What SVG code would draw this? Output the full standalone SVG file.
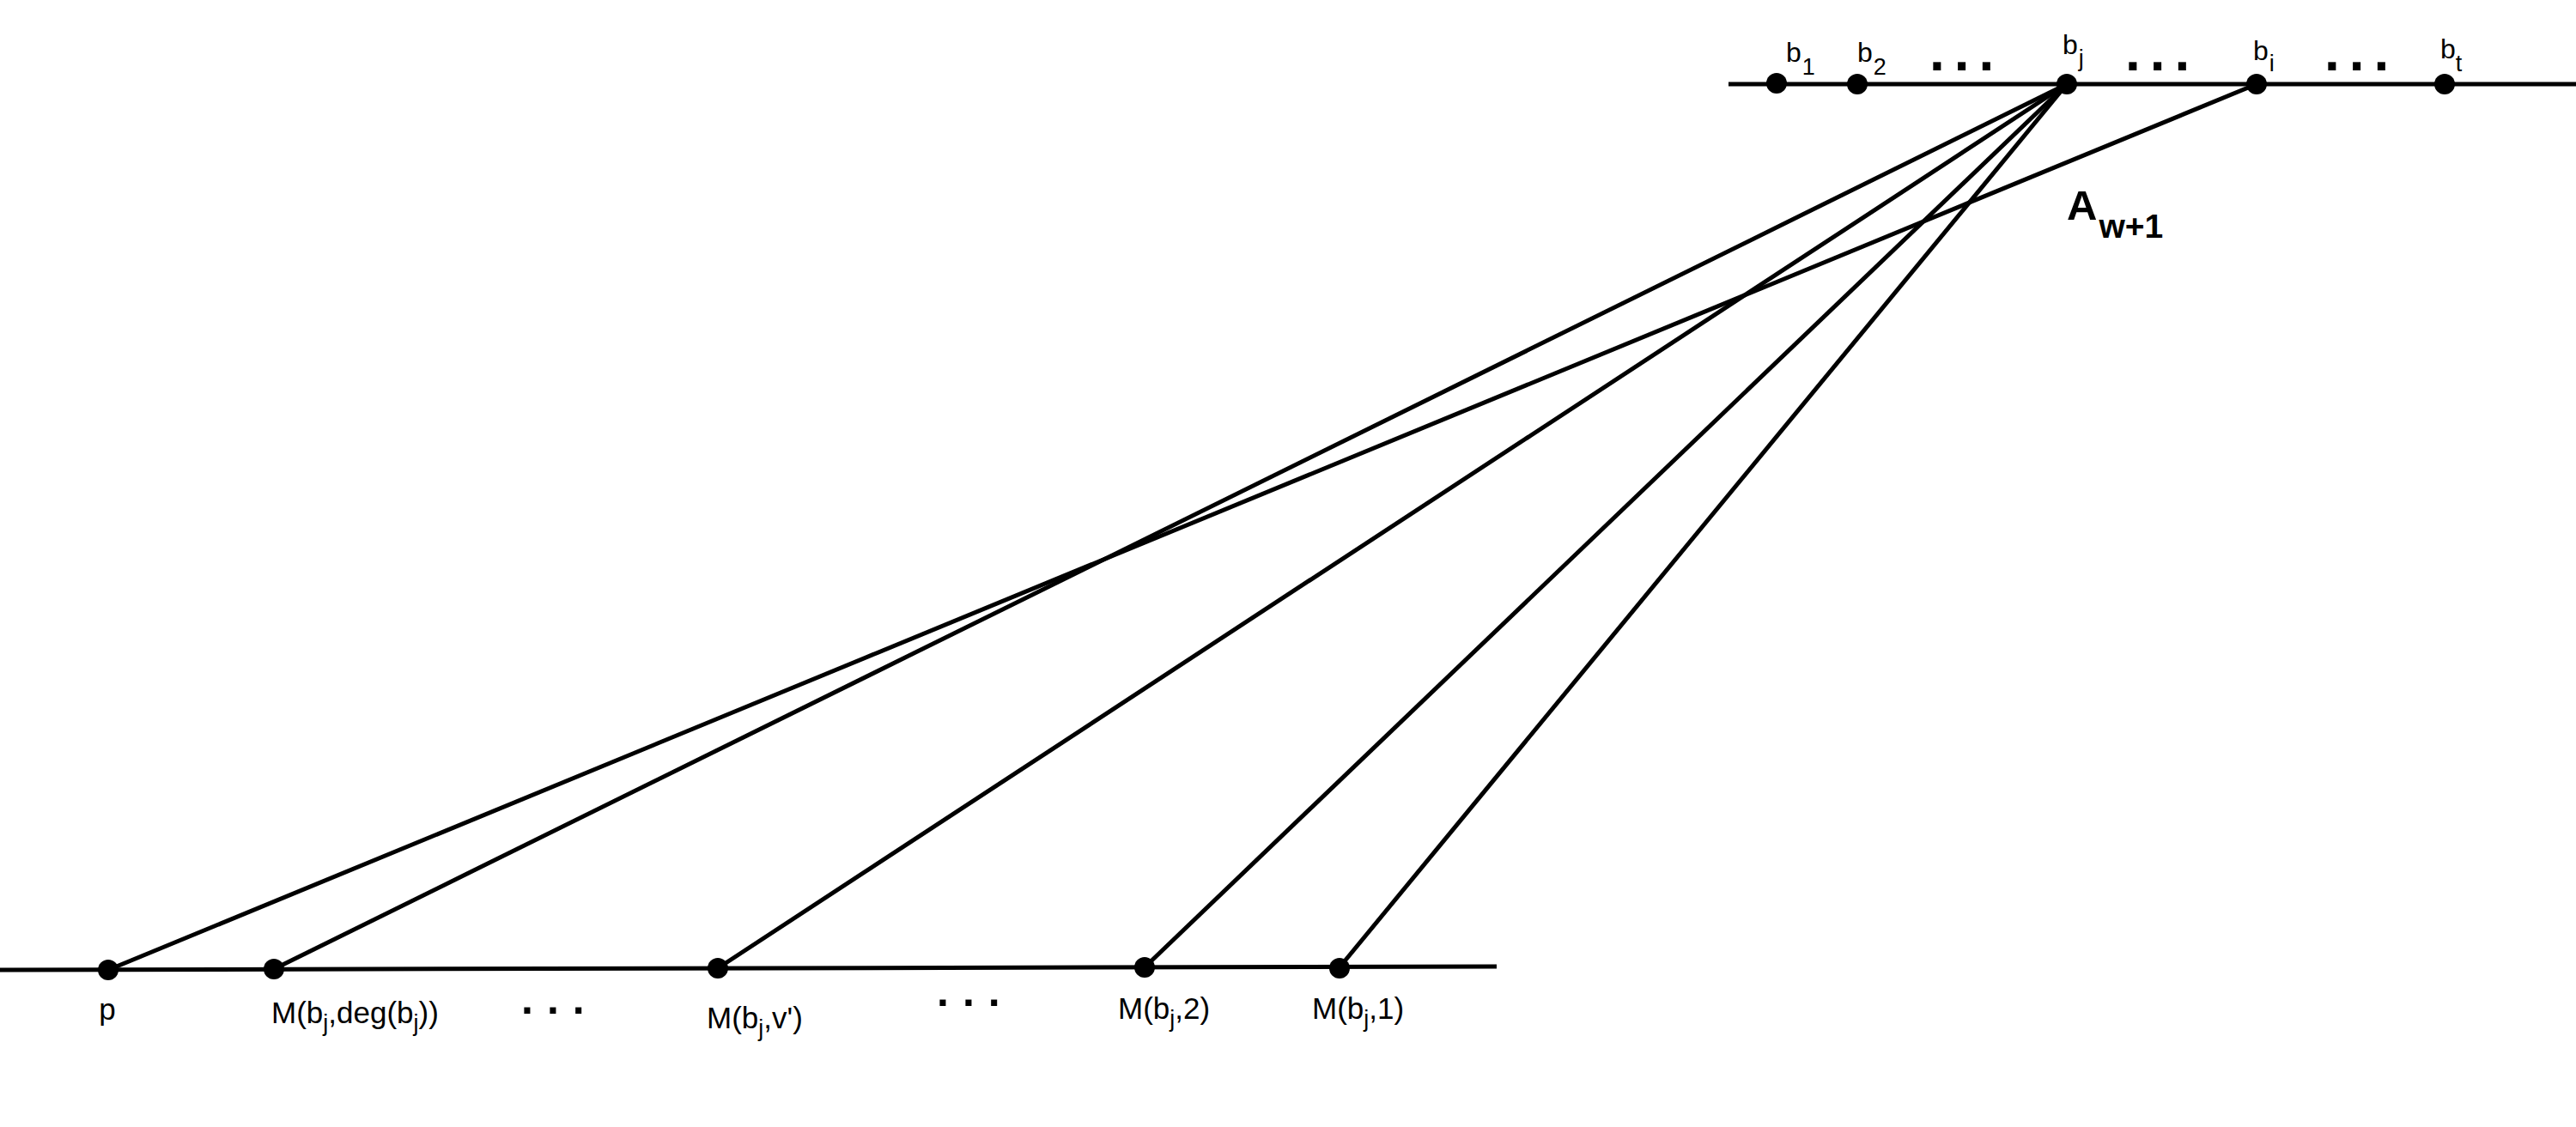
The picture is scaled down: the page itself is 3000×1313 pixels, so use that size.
<svg xmlns="http://www.w3.org/2000/svg" width="3000" height="1313" viewBox="0 0 3000 1313">
<style>
.ln{stroke:#000;stroke-width:5;fill:none;stroke-linecap:butt}
.dot{fill:#000}
.lb{font-family:"Liberation Sans",Arial,sans-serif;font-size:32px;fill:#000}
.lbb{font-family:"Liberation Sans",Arial,sans-serif;font-size:35px;fill:#000}
.sub{font-size:27px}
.ell{font-family:"Liberation Sans",Arial,sans-serif;font-weight:bold;fill:#000}
.ttl{font-family:"Liberation Sans",Arial,sans-serif;font-weight:bold;fill:#000}
</style>
<g id="axes">
<line class="ln" x1="2013" y1="98" x2="3000" y2="98"/>
<line class="ln" x1="0" y1="1130" x2="1743" y2="1126"/>
</g>
<g id="connectors">
<line class="ln" x1="2407" y1="98" x2="319" y2="1129"/>
<line class="ln" x1="2407" y1="98" x2="836" y2="1128"/>
<line class="ln" x1="2407" y1="98" x2="1333" y2="1127"/>
<line class="ln" x1="2407" y1="98" x2="1560" y2="1127"/>
<line class="ln" x1="2628" y1="98" x2="126" y2="1130"/>
</g>
<g id="b1"><circle class="dot" cx="2069" cy="97" r="12"/><text class="lb" x="2080" y="72">b<tspan class="sub" dx="1" dy="15">1</tspan></text></g>
<g id="b2"><circle class="dot" cx="2163" cy="98" r="12"/><text class="lb" x="2163" y="72">b<tspan class="sub" dx="1" dy="15">2</tspan></text></g>
<g id="bj"><circle class="dot" cx="2407" cy="98" r="12"/><text class="lb" x="2402" y="63">b<tspan class="sub" dx="1" dy="14">j</tspan></text></g>
<g id="bi"><circle class="dot" cx="2628" cy="98" r="12"/><text class="lb" x="2624" y="70">b<tspan class="sub" dx="1" dy="13">i</tspan></text></g>
<g id="bt"><circle class="dot" cx="2847" cy="98" r="12"/><text class="lb" x="2842" y="68">b<tspan class="sub" dx="0" dy="15">t</tspan></text></g>
<g id="top-ellipses">
<text class="ell" x="2247" y="82" font-size="64" letter-spacing="11">...</text>
<text class="ell" x="2475" y="82" font-size="64" letter-spacing="11">...</text>
<text class="ell" x="2707" y="82" font-size="64" letter-spacing="11">...</text>
</g>
<g id="A-label"><text class="ttl" x="2407" y="256" font-size="49">A<tspan font-size="39" dx="2" dy="21">w+1</tspan></text></g>
<g id="p"><circle class="dot" cx="126" cy="1130" r="12"/><text class="lbb" x="125" y="1188" text-anchor="middle">p</text></g>
<g id="Mdeg"><circle class="dot" cx="319" cy="1129" r="12"/><text class="lbb" x="316" y="1192">M(b<tspan class="sub" dy="9">j</tspan><tspan dy="-9">,deg(b</tspan><tspan class="sub" dy="9">j</tspan><tspan dy="-9">))</tspan></text></g>
<g id="Mv"><circle class="dot" cx="836" cy="1128" r="12"/><text class="lbb" x="823" y="1198">M(b<tspan class="sub" dy="9">j</tspan><tspan dy="-9">,v')</tspan></text></g>
<g id="M2"><circle class="dot" cx="1333" cy="1127" r="12"/><text class="lbb" x="1302" y="1187">M(b<tspan class="sub" dy="9">j</tspan><tspan dy="-9">,2)</tspan></text></g>
<g id="M1"><circle class="dot" cx="1560" cy="1128" r="12"/><text class="lbb" x="1528" y="1187">M(b<tspan class="sub" dy="9">j</tspan><tspan dy="-9">,1)</tspan></text></g>
<g id="bottom-ellipses">
<text class="ell" x="607" y="1181" font-size="50" letter-spacing="16">...</text>
<text class="ell" x="1091" y="1172" font-size="50" letter-spacing="16">...</text>
</g>
</svg>
